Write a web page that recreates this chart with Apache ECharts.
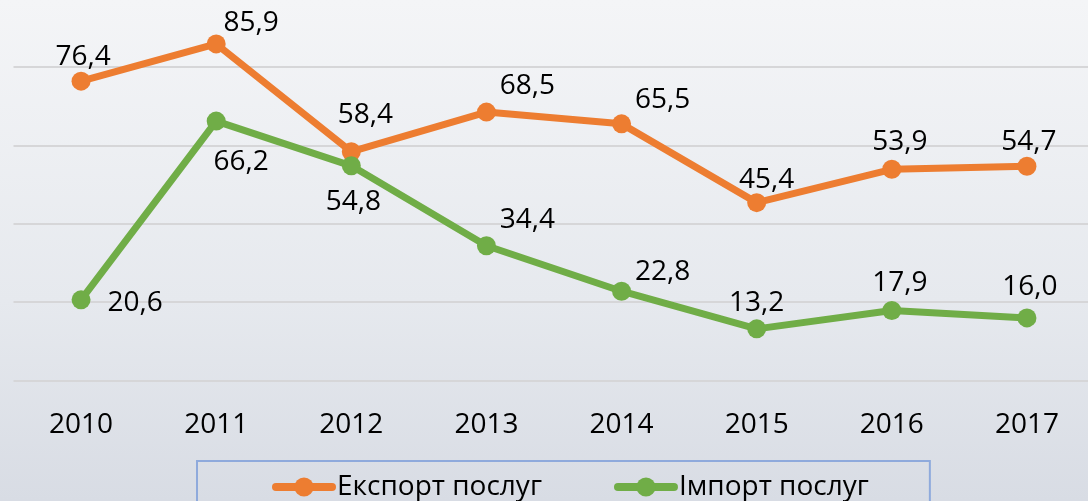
<!DOCTYPE html>
<html>
<head>
<meta charset="utf-8">
<script src="https://cdn.jsdelivr.net/npm/echarts@6/dist/echarts.min.js"></script>
<style>
  html, body { margin: 0; padding: 0; }
  body { width: 1088px; height: 501px; overflow: hidden;
         background: linear-gradient(to bottom, #f4f5f7 0%, #e6e9ee 60%, #d8dce4 100%); }
  /* the plot runs slightly past the right edge of the page */
  #chart { width: 1095px; height: 501px; }
</style>
</head>
<body>
<div id="chart"></div>
<script>
// Years on the horizontal axis
const years = ['2010', '2011', '2012', '2013', '2014', '2015', '2016', '2017'];
// Services export and import values
const exportValues = [76.4, 85.9, 58.4, 68.5, 65.5, 45.4, 53.9, 54.7];
const importValues = [20.6, 66.2, 54.8, 34.4, 22.8, 13.2, 17.9, 16.0];
const seriesNames = ['Експорт послуг', 'Імпорт послуг'];

// Label placement around each point (pixel offsets from the marker centre)
const exportLabelOffsets = [[2, -24], [35, -21], [14, -37], [41, -26], [41, -24], [10, -23], [8, -27], [2, -24]];
const importLabelOffsets = [[54, 3], [25, 41], [2, 36], [41, -26], [41, -19], [0, -26], [8, -27], [3, -31]];

const FONT = '"Open Sans", "Noto Sans", sans-serif';
const fmt = v => v.toFixed(1).replace('.', ',');

function buildData(values, offsets) {
  return values.map((v, i) => ({
    value: v,
    label: { offset: offsets[i] }
  }));
}

function lineSeries(name, values, offsets, color) {
  return {
    name: name,
    type: 'line',
    data: buildData(values, offsets),
    symbol: 'circle',
    symbolSize: 19,
    lineStyle: { color: color, width: 7, cap: 'round', join: 'round' },
    itemStyle: { color: color },
    label: {
      show: true,
      position: 'inside',
      color: '#000',
      fontFamily: FONT,
      fontSize: 28,
      formatter: p => fmt(p.value)
    },
    emphasis: { disabled: true },
    animation: false
  };
}

const chart = echarts.init(document.getElementById('chart'), null, { renderer: 'canvas' });
chart.setOption({
  backgroundColor: 'transparent',
  grid: { left: 13.5, right: 0.5, top: 0, height: 380.6, containLabel: false },
  xAxis: {
    type: 'category',
    data: years,
    boundaryGap: true,
    axisLine: { show: false },
    axisTick: { show: false },
    axisLabel: { color: '#000', fontFamily: FONT, fontSize: 28, margin: 30 }
  },
  yAxis: {
    type: 'value',
    min: 0,
    max: 97.1,
    interval: 20,
    axisLine: { show: false },
    axisTick: { show: false },
    axisLabel: { show: false },
    splitLine: { showMaxLine: false, lineStyle: { color: '#d6d6d8', width: 2 } }
  },
  legend: {
    left: 197,
    top: 461,
    padding: [12, 61, 30, 75],
    itemGap: 72,
    itemWidth: 56,
    itemHeight: 24,
    borderColor: '#8faadc',
    borderWidth: 2,
    backgroundColor: 'transparent',
    data: seriesNames,
    lineStyle: { width: 8 },
    textStyle: { color: '#000', fontFamily: FONT, fontSize: 28 }
  },
  series: [
    lineSeries(seriesNames[0], exportValues, exportLabelOffsets, '#ED7D31'),
    lineSeries(seriesNames[1], importValues, importLabelOffsets, '#70AD47')
  ]
});
</script>
</body>
</html>
